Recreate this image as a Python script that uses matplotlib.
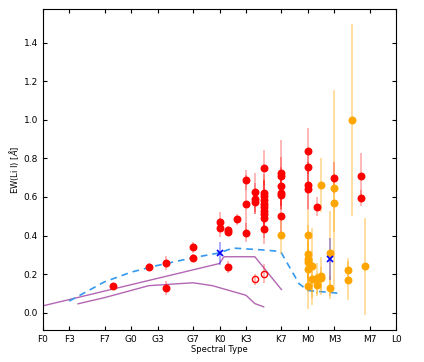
import numpy as np
import matplotlib
matplotlib.use("Agg")
import matplotlib.pyplot as plt

# spectral type labels, F0 = 0 ... L0 = 40
tick_pos = [0, 3, 7, 10, 13, 17, 20, 23, 27, 30, 33, 37, 40]
tick_lab = ["F0", "F3", "F7", "G0", "G3", "G7", "K0", "K3", "K7", "M0", "M3", "M7", "L0"]

# red filled points
red_x = [8, 12, 14, 14, 17, 17, 20, 20, 21, 21, 21, 22, 23, 23, 23,
         24, 24, 24, 25, 25, 25, 25, 25, 25, 25, 25, 25, 25,
         27, 27, 27, 27, 27, 27, 30, 30, 30, 30, 31, 33, 36, 36]
red_y = [0.136, 0.238, 0.257, 0.129, 0.338, 0.286, 0.472, 0.44, 0.43, 0.418, 0.236, 0.484, 0.688, 0.564, 0.414,
         0.624, 0.59, 0.572, 0.753, 0.62, 0.607, 0.586, 0.564, 0.546, 0.529, 0.512, 0.489, 0.435,
         0.724, 0.707, 0.655, 0.62, 0.612, 0.503, 0.84, 0.755, 0.66, 0.64, 0.55, 0.70, 0.707, 0.595]
red_e = [0.02, 0.02, 0.035, 0.035, 0.03, 0.02, 0.05, 0.05, 0.02, 0.02, 0.03, 0.03, 0.05, 0.15, 0.05,
         0.1, 0.08, 0.06, 0.09, 0.1, 0.08, 0.1, 0.12, 0.08, 0.1, 0.08, 0.1, 0.08,
         0.17, 0.1, 0.1, 0.08, 0.08, 0.1, 0.12, 0.1, 0.12, 0.11, 0.05, 0.08, 0.12, 0.04]

# red open points
open_x = [24, 25]
open_y = [0.172, 0.202]
open_e = [0.03, 0.05]

# orange points
org_x = [27, 30, 30, 30, 30, 30, 30, 30.5, 30.5, 31, 31, 31.5, 31.5, 31.5,
         32.5, 32.5, 33, 33, 34.5, 34.5, 35, 36.5]
org_y = [0.405, 0.405, 0.305, 0.276, 0.264, 0.229, 0.138, 0.24, 0.176, 0.145, 0.179, 0.19, 0.179, 0.664,
         0.308, 0.129, 0.646, 0.569, 0.222, 0.167, 1.0, 0.24]
org_e = [0.1, 0.13, 0.15, 0.1, 0.1, 0.1, 0.12, 0.2, 0.1, 0.06, 0.08, 0.1, 0.06, 0.14,
         0.22, 0.06, 0.51, 0.15, 0.06, 0.1, 0.5, 0.25]

# blue crosses
blue_x = [20, 32.5]
blue_y = [0.308, 0.277]
blue_e = [0.06, 0.11]

# dashed model curve
dash_x = [3, 7, 10, 13, 17, 20, 21.5, 25, 26.5, 27, 28, 29, 30, 33, 33.7]
dash_y = [0.06, 0.16, 0.21, 0.245, 0.285, 0.31, 0.335, 0.325, 0.319, 0.31, 0.23, 0.15, 0.115, 0.103, 0.098]

# purple curves
up_x = [0, 3, 7, 20, 20.5, 24, 27]
up_y = [0.035, 0.068, 0.112, 0.255, 0.29, 0.29, 0.12]
lo_x = [4, 7, 12, 17, 19.2, 23, 24, 25]
lo_y = [0.046, 0.078, 0.14, 0.155, 0.14, 0.09, 0.047, 0.03]

fig = plt.figure(figsize=(4.24, 3.62), dpi=100)
ax = fig.add_axes([0.1007, 0.0884, 0.834, 0.8866])

ax.plot(up_x, up_y, color="purple", alpha=0.6, lw=1)
ax.plot(lo_x, lo_y, color="purple", alpha=0.6, lw=1)
ax.plot(dash_x, dash_y, color="#3399ee", lw=1.2, ls=(0, (4, 3)))

ax.errorbar(org_x, org_y, yerr=org_e, fmt="o", color="orange", ecolor=(1, 0.65, 0, 0.4),
            elinewidth=1.3, ms=4.7, capsize=0)
ax.errorbar(red_x, red_y, yerr=red_e, fmt="o", color="red", ecolor=(1, 0, 0, 0.3),
            elinewidth=1.3, ms=4.7, capsize=0)
ax.errorbar(open_x, open_y, yerr=open_e, fmt="o", color="red", mfc="none", ecolor=(1, 0, 0, 0.3),
            elinewidth=1.3, ms=4.5, capsize=0)
ax.errorbar(blue_x, blue_y, yerr=blue_e, fmt="x", color="blue", ecolor=(0, 0, 1, 0.35),
            elinewidth=1.3, ms=4, mew=1.2, capsize=0)

ax.set_xlim(0, 40)
ax.set_ylim(-0.09, 1.575)
ax.set_xticks(tick_pos)
ax.set_xticklabels(tick_lab)
ax.set_yticks([0.0, 0.2, 0.4, 0.6, 0.8, 1.0, 1.2, 1.4])
ax.tick_params(direction="in", top=True, right=True, labelsize=6.5, length=3)
ax.set_xlabel("Spectral Type", fontsize=6, labelpad=1)
ax.set_ylabel("EW(Li I) [$\\AA$]", fontsize=6, labelpad=2)

fig.savefig("out.png", dpi=100)
